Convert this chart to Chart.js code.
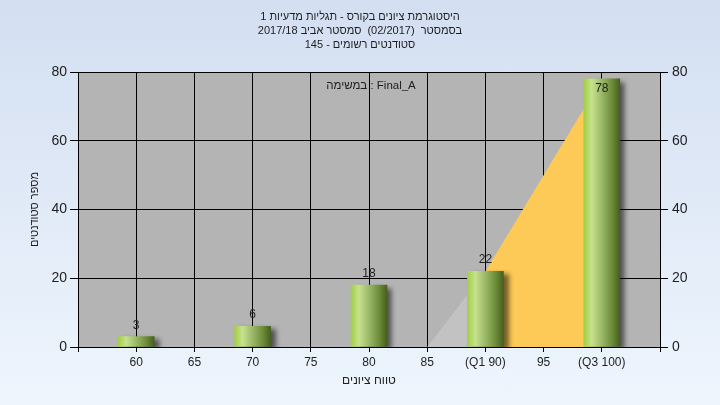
<!DOCTYPE html>
<html>
<head>
<meta charset="utf-8">
<script src="https://cdn.jsdelivr.net/npm/chart.js@4/dist/chart.umd.min.js"></script>
<style>
  html, body { margin: 0; padding: 0; }
  body {
    width: 720px; height: 405px; overflow: hidden;
    background: linear-gradient(#d3dff1, #eef5fd);
  }
  canvas { display: block; }
</style>
</head>
<body>
<canvas id="histChart" width="720" height="405"></canvas>
<script>
// data
const scores = [60, 70, 80, 90, 100];
const counts = [3, 6, 18, 22, 78];
const tickValues = [55, 60, 65, 70, 75, 80, 85, 90, 95, 100, 105];
const tickLabels = ['', '60', '65', '70', '75', '80', '85', '(Q1 90)', '95', '(Q3 100)', ''];
// shaded bands behind the bars
const lowBandX = [85, 90];
const lowBandY = [0, 22];
const midBandX = [90, 95, 100];
const midBandY = [22, 50, 78];

const titleLines = [
  'היסטוגרמת ציונים בקורס - תגליות מדעיות 1',
  'בסמסטר  (02/2017)  סמסטר אביב 2017/18',
  'סטודנטים רשומים - 145'
];
const taskText = 'במשימה : Final_A';

const FONT = "'Liberation Sans', 'DejaVu Sans', Arial, sans-serif";
const TEXT = '#1e1e1e';

const toPoints = (xs, ys) => xs.map((x, i) => ({ x: x, y: ys[i] }));

// green cylinder-ish gradient for each bar
function barGradient(c) {
  const chart = c.chart;
  const xs = chart.scales.x;
  if (c.type !== 'data' || !xs || !chart.chartArea) return '#8fb048';
  const cx = xs.getPixelForValue(scores[c.dataIndex]);
  const g = chart.ctx.createLinearGradient(cx - 18, 0, cx + 18, 0);
  g.addColorStop(0, '#a2cf44');
  g.addColorStop(0.22, '#c6e28e');
  g.addColorStop(0.5, '#9bb868');
  g.addColorStop(0.78, '#6d8d3a');
  g.addColorStop(1, '#475f1f');
  return g;
}

// gray plot background
const plotBg = {
  id: 'plotBg',
  beforeDraw(chart) {
    const { ctx, chartArea: a } = chart;
    ctx.save();
    ctx.fillStyle = '#b4b4b4';
    ctx.fillRect(a.left, a.top, a.right - a.left, a.bottom - a.top);
    ctx.restore();
  }
};

// drop shadow under the bars
const barShadow = {
  id: 'barShadow',
  beforeDatasetDraw(chart, args) {
    if (args.meta.type !== 'bar') return;
    const ctx = chart.ctx;
    ctx.save();
    ctx.shadowColor = 'rgba(0,0,0,0.55)';
    ctx.shadowBlur = 5;
    ctx.shadowOffsetX = 5;
    ctx.shadowOffsetY = 3;
  },
  afterDatasetDraw(chart, args) {
    if (args.meta.type !== 'bar') return;
    chart.ctx.restore();
  }
};

// value labels + task caption
const labels = {
  id: 'labels',
  afterDatasetsDraw(chart) {
    const { ctx, chartArea: a } = chart;
    ctx.save();
    ctx.font = '12px ' + FONT;
    ctx.fillStyle = TEXT;
    ctx.textAlign = 'center';
    ctx.textBaseline = 'alphabetic';
    chart.getDatasetMeta(0).data.forEach((el, i) => {
      let y = el.y - 8;
      if (y - 10 < a.top) y = el.y + 13;
      ctx.fillText(String(counts[i]), el.x, y);
    });
    ctx.font = '11.5px ' + FONT;
    ctx.textBaseline = 'middle';
    ctx.fillText(taskText, (a.left + a.right) / 2 + 2, a.top + 14);
    ctx.restore();
  }
};

new Chart(document.getElementById('histChart'), {
  type: 'bar',
  data: {
    datasets: [
      {
        type: 'bar',
        data: toPoints(scores, counts),
        backgroundColor: barGradient,
        borderWidth: 0,
        barThickness: 36,
        order: 0
      },
      {
        type: 'line',
        data: toPoints(lowBandX, lowBandY),
        fill: 'origin',
        backgroundColor: '#c2c2c2',
        borderWidth: 0,
        pointRadius: 0,
        tension: 0,
        order: 1
      },
      {
        type: 'line',
        data: toPoints(midBandX, midBandY),
        fill: 'origin',
        backgroundColor: '#fdca57',
        borderWidth: 0,
        pointRadius: 0,
        tension: 0,
        order: 1
      }
    ]
  },
  options: {
    responsive: false,
    animation: false,
    devicePixelRatio: 1,
    layout: { padding: 0 },
    plugins: {
      legend: { display: false },
      tooltip: { enabled: false },
      title: {
        display: true,
        text: titleLines,
        color: TEXT,
        font: { family: FONT, size: 11, weight: 'normal', lineHeight: 14 / 11 },
        padding: { top: 10, bottom: 20 }
      }
    },
    scales: {
      x: {
        type: 'linear',
        min: 55,
        max: 105,
        offset: false,
        afterBuildTicks(scale) {
          scale.ticks = tickValues.map(v => ({ value: v }));
        },
        afterFit(scale) { scale.height = 58; },
        ticks: {
          autoSkip: false,
          maxRotation: 0,
          padding: 3,
          color: TEXT,
          font: { family: FONT, size: 12 },
          callback: (v) => tickLabels[tickValues.indexOf(v)]
        },
        grid: { color: '#000', tickLength: 5, lineWidth: 1, offset: false },
        border: { color: '#000' },
        title: {
          display: true,
          text: 'טווח ציונים',
          color: TEXT,
          font: { family: FONT, size: 12 },
          padding: { top: 0, bottom: 17 }
        }
      },
      y: {
        position: 'left',
        min: 0,
        max: 80,
        afterFit(scale) { scale.width = 78; },
        ticks: {
          stepSize: 20,
          padding: 3,
          color: TEXT,
          font: { family: FONT, size: 14 }
        },
        grid: { color: '#000', tickLength: 8, lineWidth: 1 },
        border: { color: '#000' },
        title: {
          display: true,
          text: 'מספר סטודנטים',
          color: TEXT,
          font: { family: FONT, size: 11 },
          padding: { top: 28, bottom: 0 }
        }
      },
      y2: {
        position: 'right',
        min: 0,
        max: 80,
        afterFit(scale) { scale.width = 60; },
        ticks: {
          stepSize: 20,
          padding: 4,
          color: TEXT,
          font: { family: FONT, size: 14 }
        },
        grid: { drawOnChartArea: false, color: '#000', tickLength: 8 },
        border: { color: '#000' }
      }
    }
  },
  plugins: [plotBg, barShadow, labels]
});
</script>
</body>
</html>
